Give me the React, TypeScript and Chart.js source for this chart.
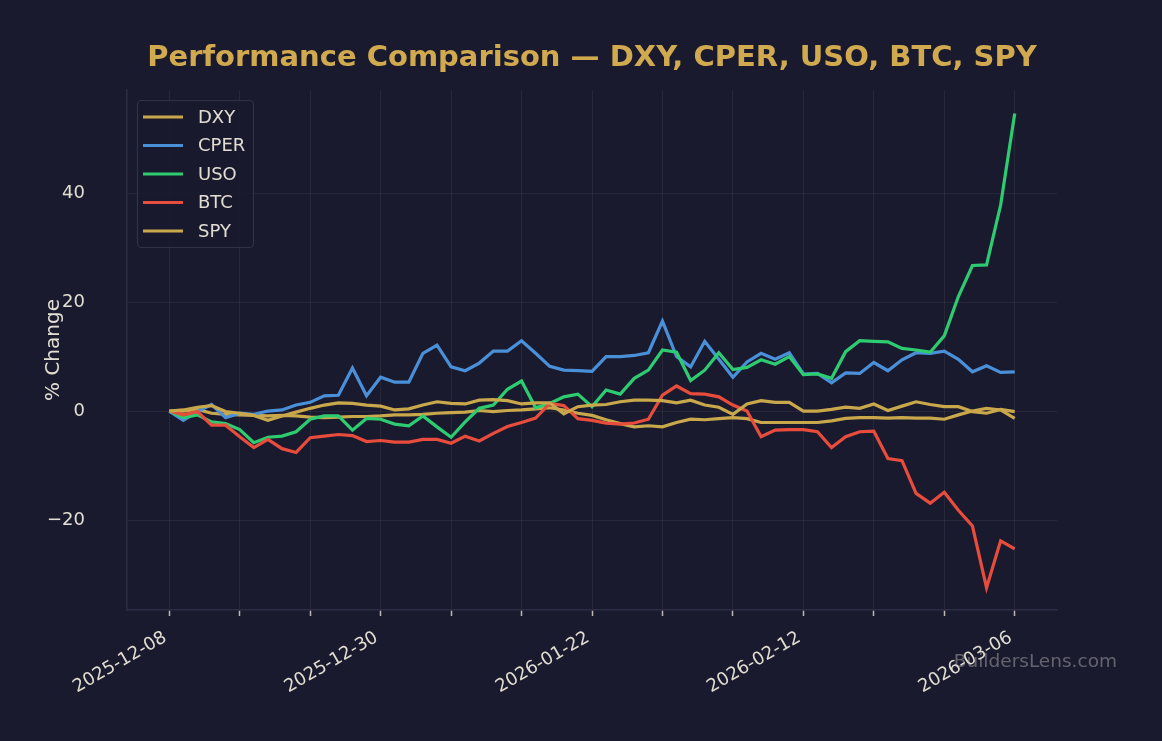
import React, { useEffect, useRef } from 'react';
import { Chart, registerables } from 'chart.js';

Chart.register(...registerables);

// Trading days (x categories)
const dates = [
  '2025-12-08', '2025-12-09', '2025-12-10', '2025-12-11', '2025-12-12',
  '2025-12-15', '2025-12-16', '2025-12-17', '2025-12-18', '2025-12-19',
  '2025-12-22', '2025-12-23', '2025-12-24', '2025-12-26', '2025-12-29',
  '2025-12-30', '2025-12-31', '2026-01-02', '2026-01-05', '2026-01-06',
  '2026-01-07', '2026-01-08', '2026-01-09', '2026-01-12', '2026-01-13',
  '2026-01-14', '2026-01-15', '2026-01-16', '2026-01-20', '2026-01-21',
  '2026-01-22', '2026-01-23', '2026-01-26', '2026-01-27', '2026-01-28',
  '2026-01-29', '2026-01-30', '2026-02-02', '2026-02-03', '2026-02-04',
  '2026-02-05', '2026-02-06', '2026-02-09', '2026-02-10', '2026-02-11',
  '2026-02-12', '2026-02-13', '2026-02-17', '2026-02-18', '2026-02-19',
  '2026-02-20', '2026-02-23', '2026-02-24', '2026-02-25', '2026-02-26',
  '2026-02-27', '2026-03-02', '2026-03-03', '2026-03-04', '2026-03-05',
  '2026-03-06',
];

const xTickLabels = ['2025-12-08', '2025-12-30', '2026-01-22', '2026-02-12', '2026-03-06'];
const yTickValues = [-20, 0, 20, 40];

const dxy = [
  0, 0, 0.3, -0.4, -0.6, -0.7, -0.8, -0.9, -0.8, -0.9,
  -1.1, -1.2, -1.1, -1.0, -1.0, -0.9, -0.7, -0.7, -0.6, -0.4,
  -0.3, -0.2, 0.1, -0.1, 0.1, 0.2, 0.4, 0.6, 0.2, -0.4,
  -0.8, -1.6, -2.3, -2.9, -2.7, -2.9, -2.1, -1.5, -1.6, -1.4,
  -1.2, -1.4, -2.1, -2.1, -2.1, -2.1, -2.1, -1.8, -1.35, -1.2,
  -1.2, -1.3, -1.2, -1.3, -1.3, -1.5, -0.7, 0, 0.5, 0.2,
  -1.35,
];

const cper = [
  0, -1.7, -0.1, 1.2, -1.2, -0.4, -0.6, 0.0, 0.2, 1.1,
  1.6, 2.8, 2.9, 7.9, 2.8, 6.2, 5.3, 5.3, 10.6, 12.1,
  8.1, 7.4, 8.8, 11.0, 11.0, 12.9, 10.6, 8.2, 7.5, 7.4,
  7.3, 10.0, 10.0, 10.2, 10.7, 16.5, 10.0, 8.1, 12.8, 9.5,
  6.2, 9.0, 10.6, 9.5, 10.7, 6.8, 6.9, 5.2, 7.0, 6.9,
  8.9, 7.4, 9.4, 10.7, 10.6, 11.0, 9.5, 7.2, 8.3, 7.1,
  7.2,
];

const uso = [
  0, -1.2, -0.7, -2.0, -2.3, -3.4, -5.8, -4.8, -4.6, -3.8,
  -1.5, -0.9, -0.9, -3.5, -1.35, -1.5, -2.4, -2.7, -0.9, -2.9,
  -4.8, -2.0, 0.5, 1.1, 4.0, 5.5, 0.6, 1.4, 2.6, 3.1,
  0.8, 3.85, 3.1, 6.0, 7.5, 11.2, 10.8, 5.6, 7.5, 10.7,
  7.6, 8.0, 9.4, 8.6, 10.0, 6.7, 6.8, 6.0, 10.9, 12.9,
  12.8, 12.7, 11.5, 11.2, 10.8, 13.8, 21.0, 26.7, 26.8, 37.8,
  54.6,
];

const btc = [
  0, -0.7, -0.1, -2.6, -2.6, -4.7, -6.7, -5.2, -6.9, -7.6,
  -4.9, -4.6, -4.3, -4.5, -5.6, -5.4, -5.7, -5.7, -5.2, -5.2,
  -5.9, -4.6, -5.5, -4.1, -2.85, -2.1, -1.3, 1.4, 1.0, -1.4,
  -1.7, -2.2, -2.4, -2.2, -1.5, 2.9, 4.6, 3.2, 3.1, 2.6,
  1.1, 0, -4.7, -3.5, -3.4, -3.4, -3.8, -6.7, -4.7, -3.8,
  -3.7, -8.7, -9.1, -15.1, -16.9, -14.9, -18.2, -21.1, -32.4, -23.8,
  -25.3,
];

const spy = [
  0, 0.2, 0.7, 1.0, -0.1, -0.4, -0.8, -1.7, -0.9, -0.2,
  0.5, 1.1, 1.5, 1.4, 1.1, 0.9, 0.2, 0.4, 1.1, 1.7,
  1.4, 1.3, 2.0, 2.1, 1.9, 1.3, 1.5, 1.5, -0.5, 0.8,
  1.1, 1.2, 1.7, 2.0, 2.0, 1.9, 1.5, 2.0, 1.1, 0.7,
  -0.6, 1.3, 1.9, 1.6, 1.6, 0, 0, 0.3, 0.7, 0.5,
  1.3, 0.1, 0.9, 1.7, 1.2, 0.8, 0.8, -0.1, -0.4, 0.3,
  -0.1,
];

const seriesNames = ['DXY', 'CPER', 'USO', 'BTC', 'SPY'];
const seriesValues = [dxy, cper, uso, btc, spy];
const seriesColors = ['#c9a84c', '#4a90d9', '#2ecc71', '#e74c3c', '#c9a84c'];

const BG = '#1a1a2e';
const GRID = 'rgba(255,255,255,0.06)';
const SPINE = '#2c2c44';
const TEXT = '#e2ddd2';
const TITLE = '#d1a94f';
const FONT = '"DejaVu Sans", "Liberation Sans", sans-serif';

const legendPlugin = {
  id: 'customLegend',
  afterDraw(chart: any) {
    const ctx = chart.ctx as CanvasRenderingContext2D;
    ctx.save();
    const bx = 137.5, by = 100.5, bw = 116, bh = 147, r = 4;
    ctx.beginPath();
    ctx.moveTo(bx + r, by);
    ctx.lineTo(bx + bw - r, by);
    ctx.arcTo(bx + bw, by, bx + bw, by + r, r);
    ctx.lineTo(bx + bw, by + bh - r);
    ctx.arcTo(bx + bw, by + bh, bx + bw - r, by + bh, r);
    ctx.lineTo(bx + r, by + bh);
    ctx.arcTo(bx, by + bh, bx, by + bh - r, r);
    ctx.lineTo(bx, by + r);
    ctx.arcTo(bx, by, bx + r, by, r);
    ctx.closePath();
    ctx.fillStyle = 'rgba(26,26,46,0.85)';
    ctx.fill();
    ctx.strokeStyle = '#31314a';
    ctx.lineWidth = 1.2;
    ctx.stroke();
    ctx.font = `18px ${FONT}`;
    ctx.textBaseline = 'middle';
    ctx.textAlign = 'left';
    seriesNames.forEach((name, k) => {
      const y = 117 + k * 28.5;
      ctx.strokeStyle = seriesColors[k];
      ctx.lineWidth = 3.2;
      ctx.beginPath();
      ctx.moveTo(143, y);
      ctx.lineTo(183, y);
      ctx.stroke();
      ctx.fillStyle = TEXT;
      ctx.fillText(name, 198, y + 1);
    });
    ctx.restore();
  },
};

const watermarkPlugin = {
  id: 'watermark',
  afterDraw(chart: any) {
    const ctx = chart.ctx as CanvasRenderingContext2D;
    ctx.save();
    ctx.font = `18.5px ${FONT}`;
    ctx.fillStyle = 'rgba(200,200,200,0.42)';
    ctx.textAlign = 'right';
    ctx.textBaseline = 'middle';
    ctx.fillText('BuildersLens.com', 1117, 662);
    ctx.restore();
  },
};

export default function App() {
  const canvasRef = useRef<HTMLCanvasElement | null>(null);

  useEffect(() => {
    document.body.style.margin = '0';
    document.body.style.background = BG;
    const canvas = canvasRef.current;
    if (!canvas) return;

    const datasets = seriesNames.map((name, k) => ({
      label: name,
      data: seriesValues[k].map((v, i) => ({ x: i, y: v })),
      borderColor: seriesColors[k],
      backgroundColor: seriesColors[k],
      borderWidth: 3.2,
      pointRadius: 0,
      tension: 0,
      fill: false,
      order: seriesNames.length - 1 - k,
    }));

    const chart = new Chart(canvas, {
      type: 'line',
      data: { datasets },
      options: {
        animation: false,
        responsive: false,
        maintainAspectRatio: false,
        layout: { padding: { left: 0, right: 105, top: 0, bottom: 0 } },
        plugins: {
          legend: { display: false },
          tooltip: { enabled: false },
          title: {
            display: true,
            text: 'Performance Comparison — DXY, CPER, USO, BTC, SPY',
            color: TITLE,
            font: { family: FONT, size: 29, weight: 'bold', lineHeight: 1.2 },
            padding: { top: 41, bottom: 14.2 },
            fullSize: false,
          },
        },
        scales: {
          x: {
            type: 'linear',
            min: -3,
            max: 63,
            afterBuildTicks: (axis: any) => {
              const t = [];
              for (let i = 0; i < dates.length; i += 5) t.push({ value: i });
              axis.ticks = t;
            },
            afterFit: (axis: any) => {
              axis.height = 131;
            },
            ticks: {
              autoSkip: false,
              minRotation: 30,
              maxRotation: 30,
              padding: 11,
              labelOffset: -4,
              color: TEXT,
              font: { family: FONT, size: 18 },
              callback: (value: any) => {
                const d = dates[Math.round(Number(value))];
                return xTickLabels.includes(d) ? d : '';
              },
            },
            grid: {
              color: GRID,
              drawTicks: true,
              tickLength: 6,
              tickColor: '#bdb9b2',
              tickWidth: 1.5,
            },
            border: { display: true, color: SPINE, width: 1.5 },
          },
          y: {
            type: 'linear',
            min: -36.5,
            max: 58.9,
            afterBuildTicks: (axis: any) => {
              axis.ticks = yTickValues.map((v) => ({ value: v }));
            },
            afterFit: (axis: any) => {
              axis.width = 127;
            },
            ticks: {
              padding: 42,
              color: TEXT,
              font: { family: FONT, size: 18 },
              callback: (value: any) => {
                const v = Number(value);
                return v < 0 ? '\u2212' + Math.abs(v) : String(v);
              },
            },
            grid: { color: GRID, drawTicks: false },
            border: { display: true, color: SPINE, width: 1.5 },
            title: {
              display: true,
              text: '% Change',
              color: TEXT,
              font: { family: FONT, size: 20, lineHeight: 1.2 },
              padding: { top: 42, bottom: 0 },
            },
          },
        },
      },
      plugins: [legendPlugin, watermarkPlugin],
    });

    return () => {
      chart.destroy();
    };
  }, []);

  return (
    <div
      style={{
        position: 'absolute',
        left: 0,
        top: 0,
        width: 1162,
        height: 741,
        background: BG,
      }}
    >
      <canvas ref={canvasRef} width={1162} height={741} style={{ width: 1162, height: 741, display: 'block' }} />
    </div>
  );
}
